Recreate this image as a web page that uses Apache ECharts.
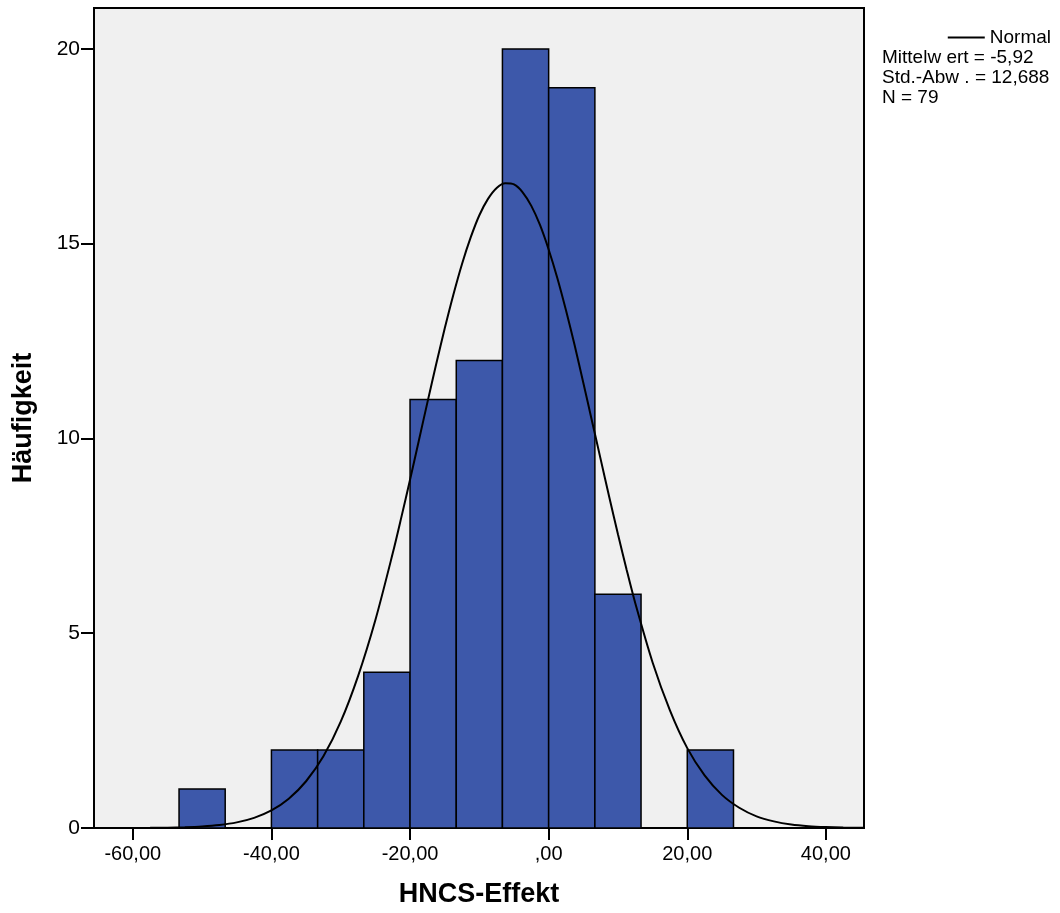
<!DOCTYPE html>
<html>
<head>
<meta charset="utf-8">
<script src="https://cdn.jsdelivr.net/npm/echarts@6/dist/echarts.min.js"></script>
<style>
html,body{margin:0;padding:0;background:#fff;}
#chart{width:1060px;height:913px;}
</style>
</head>
<body>
<div id="chart"></div>
<script>
// Histogram bins (lower edge, upper edge) and frequencies
const binLow  = [-53.33, -46.67, -40.00, -33.33, -26.67, -20.00, -13.33, -6.67, 0.00, 6.67, 13.33, 20.00];
const binHigh = [-46.67, -40.00, -33.33, -26.67, -20.00, -13.33, -6.67, 0.00, 6.67, 13.33, 20.00, 26.67];
const counts  = [1, 0, 2, 2, 4, 11, 12, 20, 19, 6, 0, 2];

// Normal curve points
const curveX = [-65.5, -62.5, -60, -57.5, -55, -52.5, -50, -47.5, -45, -42.5, -40, -37.5, -35, -32.5, -30, -27.5, -25, -22.5, -21.25, -20, -18.75, -17.5, -16.25, -15, -13.75, -12.5, -11.25, -10, -8.75, -7.5, -6.25, -5, -3.75, -2.5, -1.25, 0, 1.25, 2.5, 3.75, 5, 6.25, 7.5, 8.75, 10, 11.25, 12.5, 15, 17.5, 20, 22.5, 25, 27.5, 30, 32.5, 35, 37.5, 40, 42.5, 45.5];
const curveY = [0.000, 0.001, 0.002, 0.004, 0.009, 0.020, 0.040, 0.077, 0.144, 0.26, 0.45, 0.75, 1.20, 1.84, 2.73, 3.90, 5.34, 7.05, 7.98, 8.94, 9.93, 10.92, 11.89, 12.82, 13.69, 14.48, 15.16, 15.73, 16.15, 16.43, 16.55, 16.52, 16.32, 15.97, 15.48, 14.85, 14.12, 13.29, 12.39, 11.43, 10.45, 9.47, 8.49, 7.54, 6.63, 5.77, 4.25, 3.02, 2.05, 1.35, 0.85, 0.52, 0.30, 0.17, 0.09, 0.047, 0.024, 0.011, 0.004];

// Axis tick values
const xTicks = [-60, -40, -20, 0, 20, 40];
const yTicks = [0, 5, 10, 15, 20];

// Legend / statistics texts
const legendName = 'Normal';
const statTexts = ['Mittelw ert = -5,92', 'Std.-Abw . = 12,688', 'N = 79'];

const FONT = '"Liberation Sans", Arial, sans-serif';

function fmtX(v) {
  if (Math.abs(v) < 1e-9) return ',00';
  return (v < 0 ? '-' : '') + Math.abs(v).toFixed(0) + ',00';
}

const barData = binLow.map((lo, i) => [lo, binHigh[i], counts[i]]).filter(d => d[2] > 0);
const curveData = curveX.map((x, i) => [x, curveY[i]]);

const chart = echarts.init(document.getElementById('chart'));
chart.setOption({
  backgroundColor: '#ffffff',
  animation: false,
  grid: {
    left: 94, right: 196, top: 8, bottom: 85,
    show: true, backgroundColor: '#f0f0f0', borderColor: '#000', borderWidth: 2
  },
  legend: {
    data: [{name: legendName, icon: 'rect'}],
    right: 9, top: 28, padding: 0,
    itemWidth: 37, itemHeight: 2, itemGap: 6,
    textStyle: {color: '#000', fontSize: 19, fontFamily: FONT}
  },
  graphic: statTexts.map((t, i) => ({
    type: 'text', left: 882, top: 48 + i * 20,
    style: {text: t, fill: '#000', font: '19px ' + FONT}
  })),
  xAxis: {
    type: 'value', min: -65.6, max: 45.5,
    name: 'HNCS-Effekt', nameLocation: 'middle', nameGap: 53,
    nameTextStyle: {color: '#000', fontSize: 27, fontWeight: 'bold', fontFamily: FONT},
    axisLine: {show: true, onZero: false, lineStyle: {color: '#000', width: 2}},
    axisTick: {show: true, length: 12, lineStyle: {color: '#000', width: 2}, customValues: xTicks},
    axisLabel: {color: '#000', fontSize: 20, fontFamily: FONT, margin: 16, customValues: xTicks, formatter: fmtX},
    splitLine: {show: false}
  },
  yAxis: {
    type: 'value', min: 0, max: 21.05,
    name: 'Häufigkeit', nameLocation: 'middle', nameGap: 57,
    nameTextStyle: {color: '#000', fontSize: 27, fontWeight: 'bold', fontFamily: FONT},
    axisLine: {show: true, onZero: false, lineStyle: {color: '#000', width: 2}},
    axisTick: {show: true, length: 13, lineStyle: {color: '#000', width: 2}, customValues: yTicks},
    axisLabel: {color: '#000', fontSize: 21, fontFamily: FONT, margin: 14, customValues: yTicks},
    splitLine: {show: false}
  },
  series: [
    {
      type: 'custom',
      name: 'Häufigkeit',
      data: barData,
      encode: {x: [0, 1], y: 2},
      z: 2,
      renderItem: function (params, api) {
        const p0 = api.coord([api.value(0), api.value(2)]);
        const p1 = api.coord([api.value(1), 0]);
        return {
          type: 'rect',
          shape: {x: p0[0], y: p0[1], width: p1[0] - p0[0], height: p1[1] - p0[1]},
          style: {fill: '#3d58aa', stroke: '#000', lineWidth: 1.5}
        };
      }
    },
    {
      type: 'line',
      name: legendName,
      data: curveData,
      smooth: 0.3,
      showSymbol: false,
      symbol: 'none',
      z: 5,
      lineStyle: {color: '#000', width: 2},
      itemStyle: {color: '#000'}
    }
  ]
});
</script>
</body>
</html>
